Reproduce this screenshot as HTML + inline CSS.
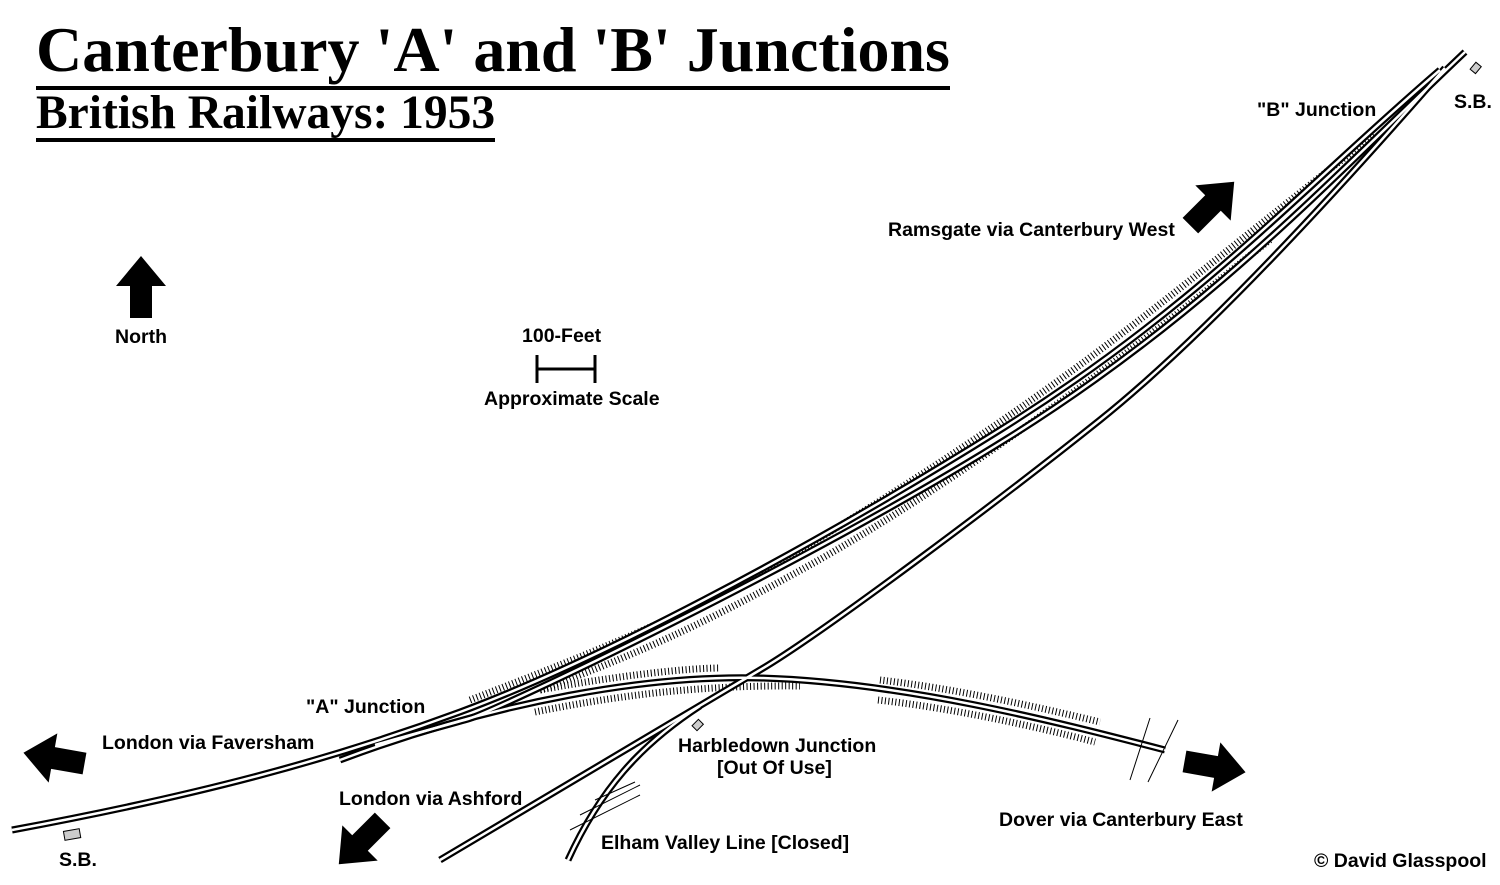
<!DOCTYPE html>
<html><head><style>
body{margin:0;background:#fff;width:1500px;height:885px;overflow:hidden;position:relative;font-family:"Liberation Sans",sans-serif;}
.t{position:absolute;font-weight:bold;font-size:19.5px;color:#000;white-space:nowrap}
h1,h2{position:absolute;margin:0;font-family:"Liberation Serif",serif;font-weight:bold;color:#000;white-space:nowrap}
h1{left:36px;top:14px;font-size:64px;line-height:72px;border-bottom:4px solid #000;}
h2{left:36px;top:88px;font-size:47.5px;line-height:50px;border-bottom:4px solid #000;}
</style></head><body>
<h1>Canterbury 'A' and 'B' Junctions</h1>
<h2>British Railways: 1953</h2>
<svg width="1500" height="885" style="position:absolute;left:0;top:0">
<defs>
<path id="ram" d="M12,830 C 200,795 330,760 460,712 S 800,555 1000,430 S 1300,190 1440,70"/>
</defs>
<g fill="none">
<!-- hatching -->
<path d="M470,700 C 600,650 700,610 800,550 S 1000,425 1100,350 S 1300,190 1375,135" stroke="#000" stroke-width="7" stroke-dasharray="1 2.5"/>
<path d="M540,690 C 650,650 720,615 810,565 S 1010,440 1110,365 S 1230,270 1270,240" stroke="#000" stroke-width="7" stroke-dasharray="1 2.5"/>
<path d="M535,712 C 620,695 700,685 800,686" stroke="#000" stroke-width="7" stroke-dasharray="1 2.5"/>
<path d="M540,690 C 620,675 690,668 720,668" stroke="#000" stroke-width="7" stroke-dasharray="1 2.5"/>
<path d="M880,680 C 950,688 1030,705 1100,722" stroke="#000" stroke-width="7" stroke-dasharray="1 2.5"/>
<path d="M878,700 C 950,708 1030,725 1095,742" stroke="#000" stroke-width="7" stroke-dasharray="1 2.5"/>
<g id="tr">
<use href="#ram"/>
<path d="M375,745 C 420,732 440,727 468,719 S 808,563 1008,438 S 1330,180 1465,52"/>
<path d="M340,760 C 500,700 650,675 760,678 C 900,682 1050,720 1165,750"/>
<path d="M440,860 C 600,765 700,705 760,670 S 1000,500 1100,420 S 1330,200 1445,68"/>
<path d="M568,860 C 600,790 640,745 700,706"/>
</g>
</g>
<g fill="none" stroke="#000" stroke-width="7"><use href="#tr"/></g>
<g fill="none" stroke="#fff" stroke-width="2.5"><use href="#tr"/></g>
<path d="M537,355v28M595,355v28M537,369h58" stroke="#000" stroke-width="3"/>
<rect x="64" y="830" width="16" height="9" fill="#ccc" stroke="#000" transform="rotate(-10 72 834)"/>
<rect x="693" y="722" width="9" height="7" fill="#ccc" stroke="#000" transform="rotate(-45 697 725)"/>
<rect x="1471" y="65" width="9" height="7" fill="#ccc" stroke="#000" transform="rotate(-50 1475 68)"/>
<polygon points="141,256 166,286 152,286 152,318 130,318 130,286 116,286" fill="#000"/>
<g fill="#000">
<polygon points="0,-30 25,0 11,0 11,32 -11,32 -11,0 -25,0" transform="translate(1213,203) rotate(45)"/>
<polygon points="0,-30 25,0 11,0 11,32 -11,32 -11,0 -25,0" transform="translate(53,758) rotate(-80)"/>
<polygon points="0,-30 25,0 11,0 11,32 -11,32 -11,0 -25,0" transform="translate(360,843) rotate(-135)"/>
<polygon points="0,-30 25,0 11,0 11,32 -11,32 -11,0 -25,0" transform="translate(1216,767) rotate(100)"/>
</g>
<path d="M1130,780 L1150,718 M1148,782 L1178,720 M570,830 L640,795 M580,815 L640,785 M595,800 L635,782" stroke="#000" stroke-width="1"/>
</svg>
<div class="t" style="left:1257px;top:99px">"B" Junction</div>
<div class="t" style="left:1454px;top:91px">S.B.</div>
<div class="t" style="left:888px;top:219px">Ramsgate via Canterbury West</div>
<div class="t" style="left:115px;top:326px">North</div>
<div class="t" style="left:522px;top:325px">100-Feet</div>
<div class="t" style="left:484px;top:388px">Approximate Scale</div>
<div class="t" style="left:306px;top:696px">"A" Junction</div>
<div class="t" style="left:102px;top:732px">London via Faversham</div>
<div class="t" style="left:678px;top:735px">Harbledown Junction</div>
<div class="t" style="left:717px;top:757px">[Out Of Use]</div>
<div class="t" style="left:339px;top:788px">London via Ashford</div>
<div class="t" style="left:999px;top:809px">Dover via Canterbury East</div>
<div class="t" style="left:601px;top:832px">Elham Valley Line [Closed]</div>
<div class="t" style="left:59px;top:849px">S.B.</div>
<div class="t" style="left:1314px;top:850px">© David Glasspool</div>
</body></html>
